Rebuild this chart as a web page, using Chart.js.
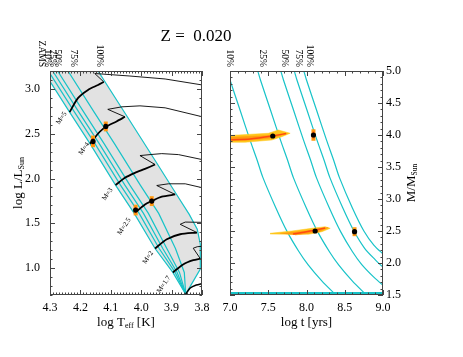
<!DOCTYPE html>
<html>
<head>
<meta charset="utf-8">
<script src="https://cdn.jsdelivr.net/npm/chart.js@4.4.1/dist/chart.umd.min.js"></script>
<style>
  html, body { margin: 0; padding: 0; background: #fff; }
  #wrap { position: relative; width: 463px; height: 357px; }
  #wrap canvas { position: absolute; left: 0; top: 0; }
</style>
</head>
<body>
<div id="wrap">
  <canvas id="hrdChart" width="463" height="357"></canvas>
  <canvas id="ageChart" width="463" height="357"></canvas>
</div>
<script>
// ==================== DATA ====================

const FIG_TITLE = 'Z =  0.020';

// Left panel: HR diagram, pairs are [log Teff, log L/Lsun]
const hrdLineNames = ['ZAMS', '10%', '25%', '50%', '75%', '100%'];
const hrdLabelTeff = [4.328, 4.308, 4.292, 4.275, 4.222, 4.136];

const hrdZams = [[4.3215, 3.2], [4.2355, 2.741], [4.1684, 2.389], [4.0844, 1.926], [4.0229, 1.611], [3.9544, 1.219], [3.8959, 0.952], [3.8536, 0.71]];
const hrd10 = [[4.3053, 3.2], [4.2193, 2.741], [4.1522, 2.389], [4.0682, 1.926], [4.0067, 1.611], [3.9409, 1.219], [3.8883, 0.952], [3.8536, 0.71]];
const hrd25 = [[4.2911, 3.2], [4.2051, 2.741], [4.1380, 2.389], [4.0536, 1.926], [3.9925, 1.611], [3.9290, 1.219], [3.8817, 0.952], [3.8536, 0.71]];
const hrd50 = [[4.2749, 3.2], [4.1889, 2.741], [4.1221, 2.389], [4.0374, 1.926], [3.9763, 1.611], [3.9157, 1.219], [3.8741, 0.952], [3.8536, 0.71]];
const hrd75 = [[4.2408, 3.2], [4.1548, 2.741], [4.0880, 2.389], [4.0030, 1.926], [3.9425, 1.611], [3.8873, 1.219], [3.8582, 0.952], [3.8536, 0.71]];
const hrd100 = [[4.1419, 3.2], [4.0457, 2.689], [3.9458, 2.156], [3.8837, 1.822], [3.8420, 1.6], [3.8156, 1.433], [3.8056, 1.267], [3.8056, 0.989], [3.8536, 0.71]];

// evolutionary tracks: main-sequence part (thick) and hook + later part (thin)
const trackNames = ['M=5', 'M=4', 'M=3', 'M=2.5', 'M=2', 'M=1.7'];
const trackMain = [
    [[4.2355, 2.741], [4.2081, 2.897], [4.1750, 2.989], [4.1419, 3.044], [4.1231, 3.078]],
    [[4.1684, 2.389], [4.1363, 2.522], [4.1142, 2.581], [4.0811, 2.637], [4.0536, 2.689]],
    [[4.0844, 1.926], [4.0536, 2.008], [4.0206, 2.063], [3.9875, 2.108], [3.9544, 2.156]],
    [[4.0229, 1.611], [3.9875, 1.711], [3.9653, 1.748], [3.9323, 1.797], [3.8883, 1.822]],
    [[3.9544, 1.219], [3.9157, 1.322], [3.8718, 1.378], [3.8165, 1.397]],
    [[3.8959, 0.952], [3.8608, 1.044], [3.8288, 1.089], [3.8056, 1.106]]
];
const trackPost = [
    [[4.1231, 3.078], [4.1528, 3.172], [4.0371, 3.144], [3.9214, 3.111], [3.7990, 3.044]],
    [[4.0536, 2.689], [4.1099, 2.772], [4.0636, 2.800], [4.0040, 2.811], [3.9214, 2.789], [3.7990, 2.689]],
    [[3.9544, 2.156], [4.0040, 2.256], [3.9710, 2.267], [3.9323, 2.278], [3.8774, 2.267], [3.7990, 2.211]],
    [[3.8883, 1.822], [3.9488, 1.922], [3.9105, 1.941], [3.8552, 1.941], [3.7990, 1.897]],
    [[3.8165, 1.397], [3.8718, 1.489], [3.8552, 1.514], [3.7990, 1.511]],
    [[3.8056, 1.106], [3.8288, 1.222], [3.8155, 1.239], [3.7990, 1.244]]
];
const trackLow = [[3.8536, 0.71], [3.8387, 0.778], [3.8188, 0.811], [3.7990, 0.828]];

const hrdStarTeff = [4.1585, 4.1165, 4.0183, 3.9653];
const hrdStarLum = [2.4145, 2.5811, 1.6478, 1.7478];
const hrdStarLumErr = [0.065, 0.055, 0.06, 0.055];

// Right panel: mass vs age, pairs are [log t, M/Msun]
const ageLineNames = ['10%', '25%', '50%', '75%', '100%'];
const ageLabelLogT = [6.987, 7.419, 7.714, 7.891, 8.035];

const age10 = [[6.96, 5.02], [7.0, 4.86], [7.131, 4.39], [7.262, 3.92], [7.354, 3.61], [7.432, 3.33], [7.60, 2.86], [7.747, 2.49], [7.90, 2.18], [8.022, 1.97], [8.20, 1.72], [8.375, 1.51]];
const age25 = [[7.358, 5.02], [7.398, 4.86], [7.529, 4.39], [7.660, 3.92], [7.752, 3.61], [7.830, 3.33], [7.998, 2.86], [8.145, 2.49], [8.298, 2.18], [8.420, 1.97], [8.598, 1.72], [8.773, 1.51]];
const age50 = [[7.659, 5.02], [7.699, 4.86], [7.830, 4.39], [7.961, 3.92], [8.053, 3.61], [8.131, 3.33], [8.299, 2.86], [8.446, 2.49], [8.599, 2.18], [8.72, 1.98], [8.88, 1.78], [9.03, 1.62]];
const age75 = [[7.835, 5.02], [7.875, 4.86], [8.006, 4.39], [8.137, 3.92], [8.229, 3.61], [8.307, 3.33], [8.475, 2.86], [8.62, 2.50], [8.76, 2.23], [8.90, 2.05], [9.03, 1.90]];
const age100 = [[7.96, 5.02], [8.0, 4.86], [8.131, 4.39], [8.262, 3.92], [8.354, 3.61], [8.432, 3.33], [8.60, 2.86], [8.75, 2.50], [8.88, 2.28], [9.02, 2.12]];
const ageFloor = [[7.0, 1.53], [9.0, 1.53]];

const ageStarLogT = [7.559, 8.091, 8.113, 8.628];
const ageStarMass = [3.984, 4.0, 2.5, 2.489];
const ageStarMassErr = [0, 0.09, 0, 0.07];

// probability clouds behind two of the stars
const cloudOuter = [
    [[6.935, 3.989], [7.502, 4.027], [7.633, 4.078], [7.786, 4.027], [7.677, 3.973], [7.546, 3.922], [7.196, 3.886], [6.935, 3.886]],
    [[7.524, 2.464], [7.808, 2.500], [8.070, 2.542], [8.244, 2.567], [8.310, 2.542], [8.201, 2.489], [8.026, 2.448], [7.808, 2.448], [7.524, 2.453]]
];
const cloudInner = [
    [[6.935, 3.961], [7.524, 3.992], [7.747, 4.023], [7.550, 3.953], [7.196, 3.914], [6.935, 3.914]],
    [[7.655, 2.461], [8.113, 2.516], [8.283, 2.555], [8.153, 2.484], [7.851, 2.438]]
];
const cloudCore = [
    [[6.974, 3.922], [7.262, 3.938], [7.550, 3.984], [7.733, 4.023]],
    [[7.825, 2.453], [7.982, 2.484], [8.244, 2.547]]
];

// tick labels
const hrdTeffTicks = [4.3, 4.2, 4.1, 4.0, 3.9, 3.8];
const hrdLumTicks = [1.0, 1.5, 2.0, 2.5, 3.0];
const ageLogTTicks = [7.0, 7.5, 8.0, 8.5, 9.0];
const ageMassTicks = [1.5, 2.0, 2.5, 3.0, 3.5, 4.0, 4.5, 5.0];

// ==================== STYLE ====================

const SERIF = '"Liberation Serif", "DejaVu Serif", serif';
const CYAN = '#17c3c8';
const GRAY = '#e2e2e2';
const FRAME = '#444';
const ORANGE = '#ff9a10';
const RED = '#ff4a10';
const YELLOW = '#ffc61a';

// pixel offsets of the mass labels from the track start
const trackLabelOffset = [[-8, 6], [-6, 5], [-8, 9], [-10, 13], [-7, 9], [-9, 12]];

// ==================== HELPERS ====================

const xy = list => list.map(p => ({ x: p[0], y: p[1] }));

function curve(list, color, width, order, tension) {
    return {
        data: xy(list),
        showLine: true,
        borderColor: color,
        borderWidth: width,
        pointRadius: 0,
        pointHoverRadius: 0,
        tension: tension || 0,
        fill: false,
        order: order,
        clip: 0
    };
}

function shape(list, color, order) {
    return {
        data: xy(list),
        showLine: true,
        borderColor: color,
        borderWidth: 0.5,
        backgroundColor: color,
        fill: 'shape',
        pointRadius: 0,
        tension: 0,
        order: order,
        clip: 0
    };
}

function dots(xs, ys) {
    return {
        data: xs.map((v, i) => ({ x: v, y: ys[i] })),
        showLine: false,
        pointRadius: 2.6,
        pointBackgroundColor: '#000',
        pointBorderWidth: 0,
        order: 0
    };
}

function errorBars(xs, ys, errs) {
    const sets = [];
    xs.forEach((v, i) => {
        if (!errs[i]) return;
        sets.push(curve([[v, ys[i] - errs[i]], [v, ys[i] + errs[i]]], ORANGE, 4, 2));
        sets.push(curve([[v, ys[i] - errs[i] * 0.6], [v, ys[i] + errs[i] * 0.6]], RED, 1.5, 1));
    });
    return sets;
}

function drawRich(ctx, parts, x, y) {
    // parts: [text, font size, baseline shift]
    let w = 0;
    parts.forEach(p => { ctx.font = p[1] + 'px ' + SERIF; w += ctx.measureText(p[0]).width; });
    let cx = x - w / 2;
    parts.forEach(p => {
        ctx.font = p[1] + 'px ' + SERIF;
        ctx.fillText(p[0], cx, y + p[2]);
        cx += ctx.measureText(p[0]).width;
    });
}

function tickValues(min, max, step) {
    const out = [];
    const n = Math.round((max - min) / step);
    for (let i = 0; i <= n; i++) out.push(min + i * step);
    return out;
}

// IDL-looking box: inward ticks on all sides, labels, titles
const idlAxes = {
    id: 'idlAxes',
    afterDraw(chart, args, o) {
        const { ctx, chartArea: a } = chart;
        const sx = chart.scales.x, sy = chart.scales.y;
        ctx.save();
        ctx.strokeStyle = FRAME;
        ctx.lineWidth = 1;
        ctx.beginPath();
        tickValues(sx.min, sx.max, o.xMinor).forEach(v => {
            const major = o.xTicks.some(t => Math.abs(t - v) < o.xMinor / 4);
            const len = major ? 5 : 2.5;
            const px = Math.round(sx.getPixelForValue(v)) + 0.5;
            ctx.moveTo(px, a.bottom); ctx.lineTo(px, a.bottom - len);
            ctx.moveTo(px, a.top); ctx.lineTo(px, a.top + len);
        });
        tickValues(sy.min, sy.max, o.yMinor).forEach(v => {
            const major = o.yTicks.some(t => Math.abs(t - v) < o.yMinor / 4);
            const len = major ? 5 : 2.5;
            const py = Math.round(sy.getPixelForValue(v)) + 0.5;
            ctx.moveTo(a.left, py); ctx.lineTo(a.left + len, py);
            ctx.moveTo(a.right, py); ctx.lineTo(a.right - len, py);
        });
        ctx.stroke();
        ctx.strokeRect(a.left + 0.5, a.top + 0.5, a.right - a.left - 1, a.bottom - a.top - 1);

        ctx.fillStyle = '#000';
        ctx.textBaseline = 'middle';
        ctx.font = '12px ' + SERIF;
        ctx.textAlign = 'center';
        o.xTicks.forEach(v => ctx.fillText(v.toFixed(1), sx.getPixelForValue(v), a.bottom + 13));
        if (o.yLabelSide === 'left') {
            ctx.textAlign = 'right';
            o.yTicks.forEach(v => ctx.fillText(v.toFixed(1), a.left - 10, sy.getPixelForValue(v)));
        } else {
            ctx.textAlign = 'left';
            o.yTicks.forEach(v => ctx.fillText(v.toFixed(1), a.right + 3, sy.getPixelForValue(v)));
        }

        ctx.textAlign = 'left';
        drawRich(ctx, o.xTitle, (a.left + a.right) / 2, a.bottom + 28);
        ctx.save();
        ctx.translate(o.yTitleX, (a.top + a.bottom) / 2);
        ctx.rotate(-Math.PI / 2);
        drawRich(ctx, o.yTitle, 0, 0);
        ctx.restore();

        // line names along the top edge, reading downwards
        ctx.font = '9.5px ' + SERIF;
        ctx.textAlign = 'right';
        o.topNames.forEach((name, i) => {
            ctx.save();
            ctx.translate(sx.getPixelForValue(o.topAt[i]), a.top - 4);
            ctx.rotate(Math.PI / 2);
            ctx.fillText(name, 0, 0);
            ctx.restore();
        });

        if (o.extra) o.extra(chart, ctx);
        ctx.restore();
    }
};

// ==================== LEFT PANEL ====================

function buildHrdChart() {
    const sets = [];
    sets.push(shape(hrdZams.concat(hrd100.slice().reverse()), GRAY, 9));
    [hrdZams, hrd10, hrd25, hrd50, hrd75, hrd100].forEach(line => sets.push(curve(line, CYAN, 1.2, 8)));
    trackPost.forEach(line => sets.push(curve(line, '#000', 0.9, 6)));
    trackMain.forEach(line => sets.push(curve(line, '#000', 1.8, 5, 0.25)));
    sets.push(curve(trackLow, '#000', 1.6, 5, 0.25));
    errorBars(hrdStarTeff, hrdStarLum, hrdStarLumErr).forEach(s => sets.push(s));
    sets.push(dots(hrdStarTeff, hrdStarLum));

    return new Chart(document.getElementById('hrdChart'), {
        type: 'scatter',
        data: { datasets: sets },
        options: {
            responsive: false,
            animation: false,
            devicePixelRatio: 1,
            events: [],
            layout: { padding: { left: 50, right: 261, top: 71, bottom: 62 } },
            scales: {
                x: { type: 'linear', min: 3.8, max: 4.3, reverse: true, display: false },
                y: { type: 'linear', min: 0.7, max: 3.2, display: false }
            },
            plugins: {
                legend: { display: false },
                tooltip: { enabled: false },
                idlAxes: {
                    xTicks: hrdTeffTicks, xMinor: 0.01,
                    yTicks: hrdLumTicks, yMinor: 0.1,
                    yLabelSide: 'left',
                    xTitle: [['log T', 13, 0], ['eff', 8, 3], [' [K]', 13, 0]],
                    yTitle: [['log L/L', 13, 0], ['Sun', 8, 3]],
                    yTitleX: 19,
                    topNames: hrdLineNames, topAt: hrdLabelTeff,
                    extra: (chart, ctx) => {
                        const sx = chart.scales.x, sy = chart.scales.y;
                        ctx.font = '7px ' + SERIF;
                        ctx.textAlign = 'center';
                        ctx.textBaseline = 'middle';
                        trackNames.forEach((name, i) => {
                            const start = trackMain[i][0];
                            ctx.save();
                            ctx.translate(sx.getPixelForValue(start[0]) + trackLabelOffset[i][0],
                                          sy.getPixelForValue(start[1]) + trackLabelOffset[i][1]);
                            ctx.rotate(-0.98);
                            ctx.fillText(name, 0, 0);
                            ctx.restore();
                        });
                        ctx.font = '17px ' + SERIF;
                        ctx.fillText(FIG_TITLE, 196, 37);
                    }
                }
            }
        },
        plugins: [idlAxes]
    });
}

// ==================== RIGHT PANEL ====================

function buildAgeChart() {
    const sets = [];
    [age10, age25, age50, age75, age100].forEach(line => sets.push(curve(line, CYAN, 1.2, 8, 0.3)));
    sets.push(curve(ageFloor, CYAN, 2, 8));
    cloudOuter.forEach(c => sets.push(shape(c, YELLOW, 4)));
    cloudInner.forEach(c => sets.push(shape(c, ORANGE, 3.5)));
    cloudCore.forEach(c => sets.push(curve(c, RED, 1.4, 3, 0.2)));
    errorBars(ageStarLogT, ageStarMass, ageStarMassErr).forEach(s => sets.push(s));
    sets.push(dots(ageStarLogT, ageStarMass));

    return new Chart(document.getElementById('ageChart'), {
        type: 'scatter',
        data: { datasets: sets },
        options: {
            responsive: false,
            animation: false,
            devicePixelRatio: 1,
            events: [],
            layout: { padding: { left: 230, right: 80, top: 71, bottom: 62 } },
            scales: {
                x: { type: 'linear', min: 7.0, max: 9.0, display: false },
                y: { type: 'linear', min: 1.5, max: 5.0, display: false }
            },
            plugins: {
                legend: { display: false },
                tooltip: { enabled: false },
                idlAxes: {
                    xTicks: ageLogTTicks, xMinor: 0.1,
                    yTicks: ageMassTicks, yMinor: 0.1,
                    yLabelSide: 'right',
                    xTitle: [['log t [yrs]', 13, 0]],
                    yTitle: [['M/M', 13, 0], ['Sun', 7.5, 3]],
                    yTitleX: 412,
                    topNames: ageLineNames, topAt: ageLabelLogT
                }
            }
        },
        plugins: [idlAxes]
    });
}

buildHrdChart();
buildAgeChart();
</script>
</body>
</html>
